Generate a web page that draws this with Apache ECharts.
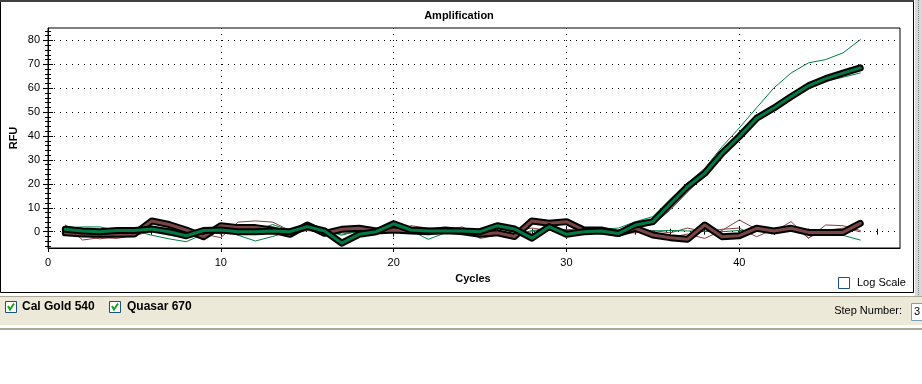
<!DOCTYPE html>
<html><head><meta charset="utf-8">
<script src="https://cdn.jsdelivr.net/npm/echarts@6/dist/echarts.min.js"></script>
<style>html,body{margin:0;padding:0;background:#fff;overflow:hidden}#c{width:922px;height:384px}</style>
</head><body><div id="c"></div>
<script>
// ---- data ----
const cycles = [1,2,3,4,5,6,7,8,9,10,11,12,13,14,15,16,17,18,19,20,21,22,23,24,25,26,27,28,29,30,31,32,33,34,35,36,37,38,39,40,41,42,43,44,45,46,47];
const xTickLabels = [0,10,20,30,40];
const yTickLabels = [0,10,20,30,40,50,60,70,80];
// thick green (selected, amplified)
const greenThick = [1.0,0.3,0.0,0.5,0.5,1.1,0.0,-1.7,0.5,0.7,0.0,0.0,0.3,0.0,2.1,0.3,-4.8,-1.1,0.0,3.3,0.7,0.3,0.3,0.3,0.0,2.5,1.1,-2.7,2.1,-1.1,0.0,0.3,-0.8,2.8,4.2,11.6,18.8,24.4,32.8,39.8,47.4,51.7,56.5,61.0,64.0,66.3,68.5];
// thick brown (selected, flat)
const brownThick = [-0.5,-1.0,-1.1,-1.1,-1.0,4.5,3.0,0.7,-2.1,2.5,1.7,1.7,0.7,-1.1,2.8,-0.7,1.0,1.4,0.3,0.7,0.3,0.0,0.7,0.0,-1.1,-0.5,-2.0,4.5,3.5,4.2,0.7,0.7,-0.7,1.4,-1.4,-2.5,-3.2,2.8,-2.1,-1.7,1.4,0.3,1.4,-0.3,-0.3,-0.3,3.5];
// thin green wells
const greenUpper = [1.5,2.0,2.0,0.5,0.0,0.3,-1.5,-2.5,0.5,1.0,0.3,0.5,3.0,0.5,1.0,0.5,-1.0,0.0,0.5,2.5,1.5,1.0,0.5,1.0,0.5,1.5,0.5,-1.0,1.0,0.0,0.5,1.0,1.5,4.2,6.3,13.5,20.3,26.5,35.5,43.4,51.8,60.1,66.4,70.6,72.0,74.8,80.3];
const greenLower = [0.5,0.0,-0.5,0.0,0.5,1.5,0.5,-0.5,0.0,1.5,1.0,0.0,0.5,-0.5,1.5,0.0,-3.5,-0.5,0.5,3.0,0.0,0.5,0.0,-0.5,0.5,2.0,0.5,-2.0,1.5,-0.5,0.5,1.5,0.5,2.0,3.0,9.0,16.5,23.5,32.0,39.5,47.0,51.5,56.0,60.5,62.9,64.6,66.4];
const greenFlat = [2.5,1.0,0.5,1.0,0.5,-1.5,-3.0,-4.2,-1.0,1.0,-1.5,-3.9,-2.0,0.0,2.0,0.5,-1.5,0.5,1.0,1.5,0.5,-3.2,-0.5,0.5,1.0,0.0,-1.5,0.5,1.0,0.0,0.5,0.0,0.5,0.3,0.3,0.5,0.3,0.3,0.0,0.5,0.3,0.5,0.3,0.5,0.0,-1.5,-3.5];
// thin brown wells
const brownA = [2.8,-3.5,-2.5,-2.8,-1.5,0.0,1.5,0.0,-1.0,-2.5,4.0,4.5,4.0,0.5,1.5,1.0,0.5,1.0,0.5,-0.5,2.5,1.5,1.0,2.0,-2.8,-1.5,0.5,1.5,0.5,1.0,0.5,1.0,0.0,0.5,0.0,-2.5,-1.0,-2.8,0.5,4.9,1.0,0.0,4.2,-2.8,2.8,2.5,0.5];
const brownB = [1.5,-1.5,-3.0,-2.0,0.0,0.5,-0.5,-1.0,0.5,-1.0,2.5,1.0,0.0,-1.0,0.5,-0.5,0.0,-0.5,1.5,0.0,1.0,0.0,1.5,1.0,-0.5,0.5,-2.0,0.0,2.0,0.5,-0.5,0.5,-0.5,-0.5,0.5,-0.5,1.5,0.0,1.0,1.5,-2.1,1.0,2.5,-2.5,0.5,1.5,0.0];

// ---- chart ----
const FONT = 'Liberation Sans';
const X_MIN = 0, X_MAX = 49.3, Y_MIN = -6.83, Y_MAX = 85.2;
const GREEN = '#008040', BROWN = '#804040';
const pts = arr => cycles.map((c, i) => [c, arr[i]]);
const xMinor = [], yMinor = [];
for (let v = 2; v < 49; v += 2) if (v % 10) xMinor.push(v);
for (let v = -6; v < 85; v += 2) if (v % 10) yMinor.push(v);

function line(name, arr, color, width, z) {
  return { name, type: 'line', data: pts(arr), xAxisIndex: 0, yAxisIndex: 0,
    showSymbol: false, symbol: 'none', silent: true, animation: false, z,
    lineStyle: { color, width, join: 'round', cap: 'round' } };
}
function tickAxis(base, pos, values, len) {
  return { type: 'value', position: pos, gridIndex: 0, min: base[0], max: base[1], offset: 0,
    axisLine: { show: false }, axisLabel: { show: false }, splitLine: { show: false },
    axisTick: { show: true, inside: true, length: len, customValues: values, lineStyle: { color: '#000', width: 1 } } };
}

const chart = echarts.init(document.getElementById('c'));
chart.setOption({
  animation: false,
  backgroundColor: '#fff',
  textStyle: { fontFamily: FONT },
  grid: { left: 48, top: 28, width: 852, height: 220, show: true, borderColor: '#000', borderWidth: 1 },
  xAxis: [
    { type: 'value', position: 'bottom', min: X_MIN, max: X_MAX, interval: 10,
      axisLine: { show: true, onZero: false, lineStyle: { color: '#000', width: 1 } },
      axisTick: { show: true, inside: false, length: 4, customValues: xTickLabels, lineStyle: { color: '#000' } },
      axisLabel: { customValues: xTickLabels, color: '#000', fontSize: 11, fontFamily: FONT, margin: 9 },
      splitLine: { show: true, lineStyle: { color: '#000', width: 1, type: [1, 5] } } },
    tickAxis([X_MIN, X_MAX], 'bottom', xMinor, 3),
    tickAxis([X_MIN, X_MAX], 'bottom', [10, 20, 30, 40], 5),
    tickAxis([X_MIN, X_MAX], 'top', xMinor, 3),
    tickAxis([X_MIN, X_MAX], 'top', [10, 20, 30, 40], 5)
  ],
  yAxis: [
    { type: 'value', position: 'left', min: Y_MIN, max: Y_MAX, splitNumber: 9, minInterval: 10, maxInterval: 10,
      axisLine: { show: true, onZero: false, lineStyle: { color: '#000', width: 1 } },
      axisTick: { show: true, inside: true, length: 5, customValues: yTickLabels, lineStyle: { color: '#000' } },
      axisLabel: { customValues: yTickLabels, color: '#000', fontSize: 11, fontFamily: FONT, margin: 8 },
      splitLine: { show: true, lineStyle: { color: '#000', width: 1, type: [1, 5] } } },
    tickAxis([Y_MIN, Y_MAX], 'left', yMinor, 3),
    tickAxis([Y_MIN, Y_MAX], 'right', yMinor, 3),
    tickAxis([Y_MIN, Y_MAX], 'right', yTickLabels, 5)
  ],
  series: [
    line('brownB', brownB, BROWN, 1, 2),
    line('brownA', brownA, BROWN, 1, 2),
    line('greenFlat', greenFlat, GREEN, 1, 2),
    line('greenLower', greenLower, GREEN, 1, 2),
    line('greenUpper', greenUpper, GREEN, 1, 2),
    line('brownThickEdge', brownThick, '#000', 7, 3),
    line('brownThick', brownThick, '#7a4644', 3, 4),
    line('greenThickEdge', greenThick, '#000', 7, 5),
    line('greenThick', greenThick, '#007a45', 3, 6)
  ],
  graphic: [
    // panel frame
    { type: 'rect', z: 0, shape: { x: 0.5, y: 0.5, width: 913, height: 292 }, style: { fill: null, stroke: '#000', lineWidth: 1 } },
    { type: 'line', z: 0, shape: { x1: 0, y1: 1, x2: 914, y2: 1 }, style: { stroke: '#404040', lineWidth: 2 } },
    { type: 'rect', z: 0, shape: { x: 915, y: 0, width: 7, height: 296 }, style: { fill: '#d8d8d8' } },
    { type: 'line', z: 0, shape: { x1: 918.5, y1: 0, x2: 918.5, y2: 296 }, style: { stroke: '#808080', lineWidth: 1, lineDash: [1, 1] } },
    // bottom band
    { type: 'line', z: 0, shape: { x1: 0, y1: 296.5, x2: 922, y2: 296.5 }, style: { stroke: '#aca899', lineWidth: 1 } },
    { type: 'rect', z: 0, shape: { x: 0, y: 297, width: 922, height: 28 }, style: { fill: '#ECE9D8' } },
    { type: 'line', z: 0, shape: { x1: 0, y1: 329, x2: 922, y2: 329 }, style: { stroke: '#aca899', lineWidth: 2 } },
    // titles
    { type: 'text', z: 10, x: 459, y: 16, style: { text: 'Amplification', font: 'bold 11px ' + FONT, fill: '#000', align: 'center', verticalAlign: 'middle' } },
    { type: 'text', z: 10, x: 14, y: 138, rotation: Math.PI / 2, style: { text: 'RFU', font: 'bold 11px ' + FONT, fill: '#000', align: 'center', verticalAlign: 'middle' } },
    { type: 'text', z: 10, x: 473, y: 279, style: { text: 'Cycles', font: 'bold 11px ' + FONT, fill: '#000', align: 'center', verticalAlign: 'middle' } },
    // log scale checkbox
    { type: 'rect', z: 10, shape: { x: 838.5, y: 277.5, width: 11, height: 11 }, style: { fill: '#fff', stroke: '#1c5180', lineWidth: 1 } },
    { type: 'text', z: 10, x: 857, y: 283, style: { text: 'Log Scale', font: '11px ' + FONT, fill: '#000', align: 'left', verticalAlign: 'middle' } },
    // legend checkboxes
    { type: 'rect', z: 10, shape: { x: 5.5, y: 301.5, width: 11, height: 11 }, style: { fill: '#fff', stroke: '#1c5180', lineWidth: 1 } },
    { type: 'polyline', z: 11, shape: { points: [[8, 306], [10, 309.5], [14, 303.5]] }, style: { stroke: '#21a121', lineWidth: 2, fill: null } },
    { type: 'text', z: 10, x: 22, y: 307, style: { text: 'Cal Gold 540', font: 'bold 12px ' + FONT, fill: '#000', align: 'left', verticalAlign: 'middle' } },
    { type: 'rect', z: 10, shape: { x: 109.5, y: 301.5, width: 11, height: 11 }, style: { fill: '#fff', stroke: '#1c5180', lineWidth: 1 } },
    { type: 'polyline', z: 11, shape: { points: [[112, 306], [114, 309.5], [118, 303.5]] }, style: { stroke: '#21a121', lineWidth: 2, fill: null } },
    { type: 'text', z: 10, x: 127, y: 307, style: { text: 'Quasar 670', font: 'bold 12px ' + FONT, fill: '#000', align: 'left', verticalAlign: 'middle' } },
    // step number
    { type: 'text', z: 10, x: 902, y: 311, style: { text: 'Step Number:', font: '11px ' + FONT, fill: '#000', align: 'right', verticalAlign: 'middle' } },
    { type: 'rect', z: 10, shape: { x: 911.5, y: 303.5, width: 14, height: 17 }, style: { fill: '#fff', stroke: '#7f9db9', lineWidth: 1 } },
    { type: 'text', z: 11, x: 914, y: 312, style: { text: '3', font: '11px ' + FONT, fill: '#000', align: 'left', verticalAlign: 'middle' } }
  ]
});
</script>
</body></html>
